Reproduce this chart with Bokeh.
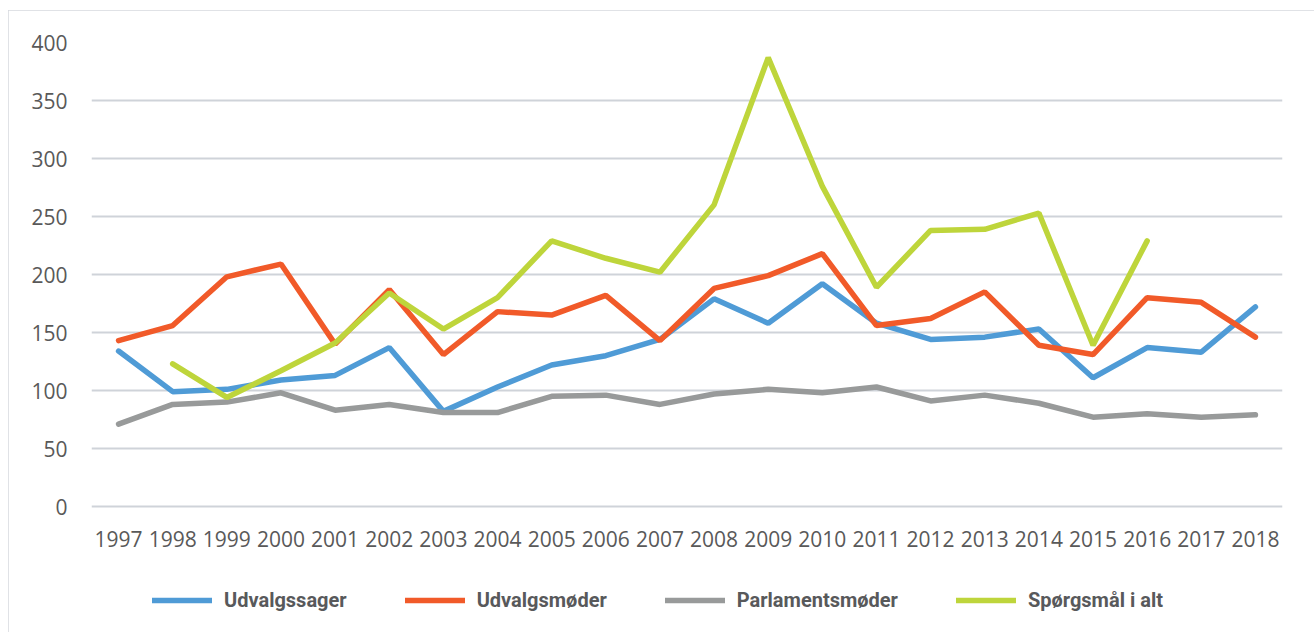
import math
from bokeh.plotting import figure
from bokeh.models import Legend, LegendItem, FixedTicker
from bokeh.embed import file_html
from bokeh.resources import INLINE

years = [str(y) for y in range(1997, 2019)]
udvalgssager = [134, 99, 101, 109, 113, 137, 82, 103, 122, 130, 144, 179, 158, 192, 158, 144, 146, 153, 111, 137, 133, 172]
udvalgsmoder = [143, 156, 198, 209, 140, 187, 131, 168, 165, 182, 143, 188, 199, 218, 156, 162, 185, 139, 131, 180, 176, 146]
parlamentsmoder = [71, 88, 90, 98, 83, 88, 81, 81, 95, 96, 88, 97, 101, 98, 103, 91, 96, 89, 77, 80, 77, 79]
nan = float("nan")
sporgsmal = [nan, 123, 94, 117, 141, 184, 153, 180, 229, 214, 202, 260, 387, 276, 189, 238, 239, 253, 139, 229, nan, nan]

series_names = ["Udvalgssager", "Udvalgsmøder", "Parlamentsmøder", "Spørgsmål i alt"]
series_values = [udvalgssager, udvalgsmoder, parlamentsmoder, sporgsmal]
colors = ["#4F9BD6", "#F15A29", "#989A9A", "#BED53B"]
y_ticks = [0, 50, 100, 150, 200, 250, 300, 350, 400]

# the frame extends below zero to host the axis labels and the legend
p = figure(x_range=years, y_range=(-100, 400), frame_width=1191, frame_height=580,
           output_backend="svg", toolbar_location=None,
           min_border_left=83, min_border_right=32, min_border_top=32, min_border_bottom=10)
p.styles = {"outline": "2px solid #D6D9DE", "outline-offset": "-2px",
            "margin-left": "8px", "margin-top": "10px"}
p.outline_line_color = None
p.background_fill_color = "white"
p.border_fill_color = "white"

p.ygrid.grid_line_color = "#CFD3D9"
p.ygrid.grid_line_width = 2
p.xgrid.grid_line_color = None

p.yaxis.ticker = FixedTicker(ticks=y_ticks)
p.xaxis.fixed_location = 0
for ax in (p.xaxis[0], p.yaxis[0]):
    ax.axis_line_color = None
    ax.major_tick_line_color = None
    ax.minor_tick_line_color = None
    ax.major_label_text_font = "Open Sans"
    ax.major_label_text_font_size = "21px"
    ax.major_label_text_color = "#595959"
p.yaxis.major_label_standoff = 18
p.xaxis.major_label_standoff = 18

items = []
for name, vals, col in zip(series_names, series_values, colors):
    r = p.line(years, vals, line_color=col, line_width=5.5, line_cap="round")
    items.append(LegendItem(label=name, renderers=[r]))

legend = Legend(items=items, orientation="horizontal", location=(61, 10),
                glyph_width=60, glyph_height=24, label_standoff=12, spacing=58,
                label_text_font="Roboto", label_text_font_style="bold",
                label_text_font_size="20px",
                label_text_color="#58595B", border_line_color=None,
                background_fill_alpha=0, margin=0, padding=0)
p.add_layout(legend, "center")

html = file_html(p, INLINE)
html = html.replace("</head>", "<style>html, body { overflow: hidden; }</style></head>", 1)
open("out.html", "w").write(html)
